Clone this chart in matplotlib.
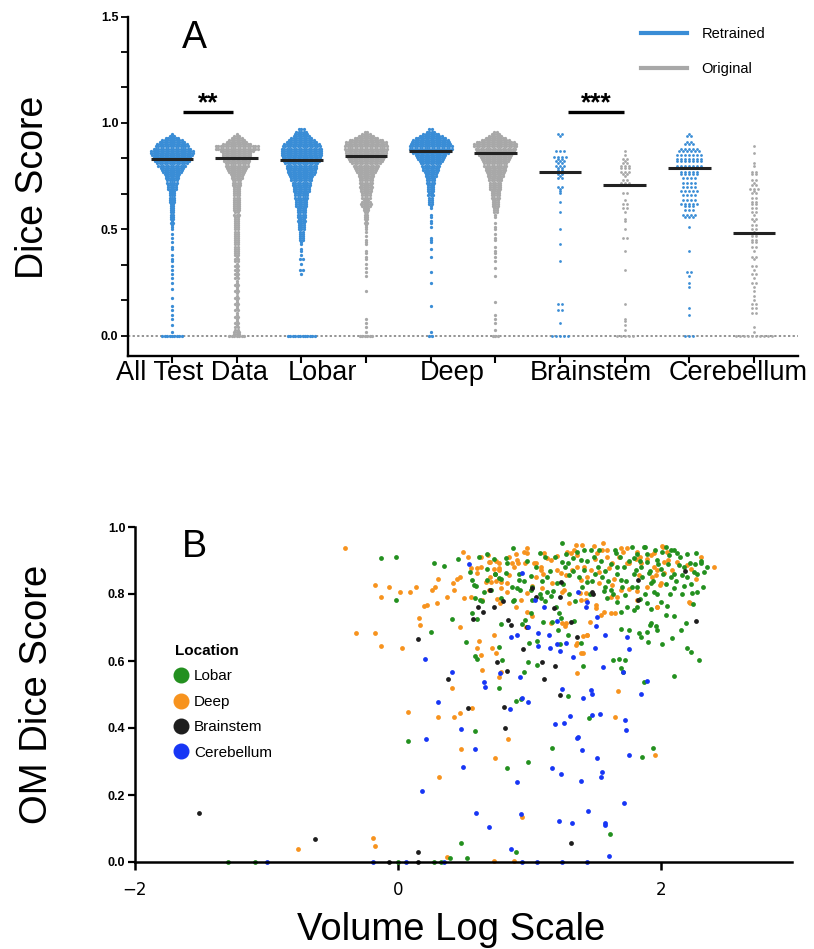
import numpy as np
import matplotlib
matplotlib.use("Agg")
import matplotlib.pyplot as plt
from matplotlib.lines import Line2D
from matplotlib.ticker import MultipleLocator

plt.rcParams['font.family'] = ['Liberation Sans', 'DejaVu Sans']

# ---------------- Panel A data ----------------
# number of cases per 0.01 Dice bin, index i -> score i/100 (0.00 .. 0.97)
all_ret = [9,0,1,0,0,1,0,0,1,0,
           1,0,1,0,1,0,0,0,1,0,
           0,0,1,0,0,1,0,1,0,1,
           0,1,0,1,0,1,1,0,1,0,
           0,1,1,0,1,0,1,0,1,0,
           1,1,1,2,1,2,2,2,2,2,
           2,2,2,3,3,3,3,3,3,4,
           4,4,5,5,6,6,7,8,9,10,
           12,13,15,16,16,17,18,18,16,14,
           13,11,9,6,3,1,0,0]
all_orig = [7,3,3,2,2,1,2,1,1,2,
            1,1,2,1,1,2,1,1,2,1,
            1,2,1,1,2,1,1,2,1,2,
            1,2,1,2,1,2,2,1,2,2,
            2,2,2,2,2,2,2,2,2,2,
            2,2,2,2,2,2,2,3,2,3,
            3,3,3,3,3,3,3,3,3,3,
            3,4,4,4,5,5,6,7,8,9,
            10,10,11,11,12,12,12,14,18,18,
            12,9,7,5,3,1,0,0]
lobar_ret = [12,0,0,0,0,0,0,0,0,0,
             0,0,0,0,0,0,0,0,0,0,
             0,0,0,0,0,0,0,0,0,1,
             0,2,0,0,1,0,2,0,1,0,
             1,1,0,1,1,2,2,2,2,2,
             3,3,3,3,4,3,4,4,4,4,
             4,5,5,5,5,6,6,6,7,7,
             7,8,8,9,9,10,11,12,12,13,
             13,14,15,16,16,17,17,17,17,16,
             15,13,11,9,7,6,5,3]
lobar_orig = [6,0,1,0,1,0,1,0,1,0,
              0,0,0,0,0,0,0,0,0,0,
              0,1,0,0,0,0,0,0,1,0,
              1,0,1,0,1,0,1,1,0,1,
              1,0,0,1,1,1,0,1,0,1,
              1,1,1,2,1,2,2,2,2,3,
              3,4,5,4,3,4,4,4,5,5,
              6,5,6,6,6,7,7,8,9,10,
              11,12,14,15,16,16,17,17,18,18,
              17,17,14,10,7,4,2,0]
deep_ret = [2,0,1,0,0,0,0,0,0,0,
            0,0,0,0,1,0,0,0,0,0,
            0,0,0,0,0,1,0,0,0,0,
            1,0,0,0,0,0,0,1,0,0,
            0,1,0,0,1,1,1,0,0,0,
            0,1,0,1,1,0,1,1,0,0,
            1,1,2,2,2,2,3,2,3,3,
            3,3,4,4,4,5,5,6,7,7,
            8,9,10,11,12,13,15,17,18,18,
            17,16,15,13,10,7,4,2]
deep_orig = [3,0,0,1,0,0,1,0,1,0,
             1,0,0,0,0,0,1,0,0,0,
             0,0,0,0,0,0,0,0,1,0,
             0,0,1,0,0,1,0,1,0,1,
             1,0,1,0,0,1,1,0,1,0,
             1,1,0,1,0,0,1,1,2,2,
             2,3,3,3,3,4,4,4,4,5,
             5,5,5,6,6,7,7,8,9,9,
             10,10,11,12,13,14,15,16,17,18,
             18,16,12,9,6,4,2,0]
brain_ret = [5,0,0,0,0,0,1,0,0,0,
             0,0,2,0,0,2,0,0,0,0,
             0,0,0,0,0,0,0,0,0,0,
             0,0,0,0,0,1,0,0,0,0,
             0,0,0,1,0,0,0,0,0,0,
             1,0,0,0,0,0,0,0,1,0,
             0,0,0,1,0,0,0,1,1,1,
             2,0,0,0,2,1,2,2,2,2,
             3,2,3,2,4,0,0,3,0,0,
             0,0,0,0,1,2,0,0]
brain_orig = [5,0,0,1,0,1,0,1,1,0,
              0,0,0,0,0,1,0,0,0,0,
              0,0,0,0,0,0,0,0,0,0,
              0,1,0,0,0,0,0,0,0,0,
              1,0,0,0,0,0,2,0,0,0,
              1,0,0,0,1,1,0,0,1,0,
              2,0,2,0,1,0,0,2,0,0,
              0,1,3,2,0,1,2,3,0,3,
              3,2,1,2,0,1,0,1,0,0,
              0,0,0,0,0,0,0,0]
cereb_ret = [3,0,0,0,0,0,0,0,0,0,
             1,0,0,1,0,0,0,0,0,0,
             0,0,0,1,0,1,0,0,1,0,
             2,0,0,0,0,0,0,0,0,0,
             1,0,0,0,0,0,0,0,0,0,
             0,1,0,0,0,0,3,4,0,3,
             0,3,5,0,4,0,4,0,5,0,
             4,0,4,0,4,0,5,5,0,5,
             7,0,7,7,0,7,0,6,5,0,
             3,2,0,0,2,1,0,0]
cereb_orig = [10,0,1,0,1,0,0,0,0,0,
              0,2,0,2,0,2,0,1,0,1,
              0,1,0,1,0,2,0,1,0,2,
              0,1,0,2,0,0,1,2,0,0,
              1,0,2,0,2,2,0,2,2,1,
              2,0,2,0,1,2,0,1,2,0,
              2,0,2,2,0,2,0,2,1,3,
              0,2,1,2,0,0,2,2,0,0,
              1,1,0,0,0,0,1,0,0,1,
              0,0,0,0,0,0,0,0]

groups_a = [all_ret, all_orig, lobar_ret, lobar_orig, deep_ret, deep_orig,
            brain_ret, brain_orig, cereb_ret, cereb_orig]
medians_a = [0.83, 0.835, 0.826, 0.845, 0.87, 0.86, 0.77, 0.71, 0.79, 0.485]
categories = ["All Test Data", "Lobar", "Deep", "Brainstem", "Cerebellum"]
legend_a = ["Retrained", "Original"]

# ---------------- Panel B data (log volume, OM dice) ----------------
deep_pts = [(-0.40,0.936),(-0.175,0.827),(-0.07,0.82),(0.015,0.806),(0.09,0.806),(0.137,0.82),
    (-0.127,0.79),(0.16,0.727),(0.17,0.707),(-0.317,0.685),(-0.175,0.685),(-0.13,0.645),
    (0.035,0.64),(0.074,0.449),(-0.763,0.038),(-0.19,0.072),(-0.175,0.048),
    (0.200,0.764),(0.221,0.767),(0.264,0.812),(0.281,0.822),(0.307,0.844),(0.297,0.772),
    (0.378,0.790),(0.421,0.832),(0.428,0.812),(0.454,0.844),(0.474,0.852),(0.499,0.924),
    (0.535,0.909),(0.504,0.787),(0.555,0.790),(0.474,0.702),(0.631,0.882),(0.601,0.864),
    (0.687,0.916),(0.695,0.897),(0.712,0.837),(0.745,0.840),(0.771,0.877),(0.783,0.817),
    (0.834,0.834),(0.847,0.857),(0.872,0.892),(0.897,0.918),(0.885,0.882),(0.910,0.901),
    (0.961,0.926),(0.986,0.936),(0.966,0.892),(1.037,0.894),(1.049,0.852),(1.087,0.882),
    (1.105,0.860),(1.024,0.824),(0.986,0.802),(1.113,0.921),(1.169,0.901),(1.209,0.913),
    (1.290,0.926),(1.341,0.931),(1.404,0.946),(1.366,0.916),(1.240,0.862),(1.328,0.872),
    (1.252,0.807),(1.387,0.804),(1.430,0.782),(0.758,0.784),(0.778,0.772),(0.829,0.807),
    (0.897,0.762),(0.733,0.678),(0.619,0.661),(0.606,0.640),(0.720,0.638),(0.745,0.625),
    (0.631,0.618),(0.986,0.747),(1.024,0.734),(1.163,0.712),(1.252,0.712),(1.272,0.704),
    (1.366,0.655),(1.354,0.648),(1.412,0.623),(1.366,0.563),(0.644,0.573),(0.771,0.553),
    (0.783,0.568),(0.411,0.518),(0.307,0.432),(0.428,0.432),(0.474,0.444),(0.568,0.459),
    (0.484,0.337),(0.314,0.253),(0.740,0.309),(0.839,0.366),(0.948,0.135),(0.373,0.016),
    (0.733,0.003),(0.885,0.003),(1.412,0.676),(1.437,0.678),(1.460,0.717),(1.675,0.510),
    (1.653,0.432),(1.954,0.319),(2.215,0.777),(2.266,0.844),(1.970,0.762),(2.406,0.882),
    (1.283,0.712),(0.555,0.877),(0.606,0.877),(0.631,0.909),(0.745,0.900),(0.771,0.872),
    (0.783,0.837),(0.669,0.837),(0.702,0.850),(0.935,0.782),
    (1.564,0.953),(1.594,0.931),(1.696,0.936),(1.716,0.926),(1.747,0.892),(1.810,0.903),
    (1.843,0.911),(1.899,0.903),(1.949,0.921),(2.013,0.943),(2.046,0.926),(2.056,0.901),
    (2.089,0.872),(2.127,0.897),(1.975,0.872),(1.937,0.852),(2.025,0.862),(1.995,0.827),
    (1.899,0.822),(1.823,0.810),(1.759,0.814),(1.696,0.812),(1.632,0.827),(1.665,0.792),
    (1.607,0.877),(1.531,0.867),(1.468,0.872),(1.417,0.882),(1.498,0.903),(1.392,0.842),
    (1.430,0.802),(1.506,0.757),(1.620,0.742),(1.544,0.737),(1.823,0.782),(1.975,0.760),
    (2.228,0.874),(2.309,0.911),(2.203,0.887),(2.223,0.774),(1.392,0.623),(1.443,0.678),
    (0.702,0.897),(0.771,0.892),(0.733,0.874),(0.847,0.911),(0.915,0.892),(0.986,0.921),
    (1.049,0.892),(1.087,0.872),(1.138,0.906),(1.100,0.817),(1.176,0.832),(1.209,0.872),
    (1.316,0.921),(1.354,0.946),(1.493,0.943),(1.518,0.921),(1.556,0.931),(1.589,0.911),
    (1.632,0.892),(1.683,0.911),(1.747,0.936),(1.759,0.892),(1.823,0.926),(1.848,0.892),
    (1.929,0.916),(1.949,0.882),(2.020,0.941),(2.025,0.897),(1.962,0.857),(2.000,0.832),
    (1.835,0.857),(1.620,0.792),(1.650,0.744),(1.645,0.844),(1.531,0.832),(1.437,0.852),
    (1.366,0.882),(1.278,0.857),(1.265,0.812),(1.303,0.772),(1.392,0.782),(1.506,0.767),
    (1.569,0.747),(0.695,0.812),(0.644,0.782),(0.973,0.702)]

lobar_pts = [(-0.13,0.908),(-0.015,0.91),(-0.015,0.782),(0.078,0.36),(-1.295,0.0),(-1.09,0.0),
    (0.0,0.0),(0.276,0.892),(0.352,0.885),(0.411,0.724),(0.251,0.686),(0.520,0.658),
    (0.586,0.615),(0.601,0.605),(0.588,0.391),(0.771,0.643),(0.834,0.282),(0.991,0.299),
    (0.991,0.596),(0.935,0.487),(1.062,0.660),(1.176,0.339),(1.412,0.586),(1.455,0.429),
    (1.716,0.568),(1.906,0.658),(1.919,0.707),(2.190,0.712),(1.942,0.341),(1.861,0.312),
    (1.612,0.083),(0.479,0.056),(0.897,0.031),(0.398,0.011),(0.530,0.011),(0.276,0.0),
    (0.327,0.0),(0.580,0.827),(0.626,0.782),
    (0.459,0.903),(0.619,0.909),(0.550,0.867),(0.568,0.842),(0.593,0.824),(0.588,0.789),
    (0.568,0.742),(0.606,0.725),(0.771,0.847),(0.829,0.892),(0.821,0.862),(0.677,0.874),
    (0.738,0.859),(0.707,0.812),(0.657,0.807),(0.783,0.787),(0.923,0.842),(0.905,0.817),
    (0.885,0.782),(1.024,0.782),(0.966,0.722),(1.011,0.742),(1.176,0.717),(1.240,0.727),
    (1.341,0.720),(1.062,0.588),
    (1.252,0.953),(0.880,0.936),(0.821,0.908),(0.733,0.903),(0.682,0.918),(0.740,0.860),
    (0.644,0.780),(0.682,0.842),(0.783,0.844),(0.961,0.840),(1.011,0.854),(1.082,0.921),
    (1.118,0.911),(1.138,0.850),(1.138,0.807),(1.163,0.794),(1.202,0.760),(1.214,0.832),
    (1.247,0.897),(1.270,0.880),(1.295,0.892),(1.303,0.857),(1.336,0.906),(1.366,0.926),
    (1.392,0.901),(1.417,0.872),(1.437,0.837),(1.468,0.931),(1.493,0.911),(1.523,0.882),
    (1.556,0.852),(1.574,0.822),(1.594,0.787),(1.625,0.812),(1.658,0.921),(1.670,0.882),
    (1.696,0.842),(1.726,0.797),(1.747,0.762),(1.785,0.941),(1.797,0.906),(1.810,0.872),
    (1.823,0.822),(1.843,0.784),(1.873,0.939),(1.894,0.897),(1.911,0.862),(1.924,0.832),
    (1.949,0.807),(1.975,0.901),(2.000,0.874),(2.013,0.926),(2.038,0.941),(2.063,0.916),
    (2.076,0.852),(2.101,0.817),(2.127,0.921),(2.139,0.887),(2.165,0.857),(2.177,0.824),
    (2.203,0.919),(2.223,0.892),(2.253,0.867),(2.266,0.921),(2.304,0.892),(2.330,0.867),
    (2.274,0.807),(2.241,0.804),(2.000,0.776),(2.051,0.764),(2.101,0.734),(2.038,0.737),
    (1.924,0.754),(1.899,0.772),(1.823,0.762),(1.797,0.752),(1.696,0.747),(1.670,0.777),
    (1.759,0.693),(1.696,0.695),(1.835,0.683),(1.848,0.673),(1.899,0.688),(1.962,0.704),
    (1.975,0.693),(1.924,0.712),(2.013,0.650),(2.089,0.668),(2.152,0.693),(2.203,0.640),
    (2.228,0.628),(2.292,0.603),(2.101,0.555),(1.873,0.538),(1.683,0.605),(1.640,0.603),
    (1.726,0.603),(1.696,0.578),(1.108,0.717),(1.219,0.693),(1.234,0.651),(1.295,0.678),
    (1.392,0.655),(0.999,0.653),(0.948,0.710),(0.783,0.710),(0.796,0.603),(0.771,0.518),
    (0.897,0.482),(0.961,0.568),(1.295,0.496),(1.227,0.744),(1.087,0.787),(1.011,0.812),
    (0.930,0.812),(0.872,0.822),
    (1.05,0.88),(1.10,0.84),(1.16,0.87),(1.20,0.91),(1.26,0.83),(1.30,0.80),(1.33,0.87),
    (1.38,0.85),(1.40,0.82),(1.44,0.90),(1.46,0.80),(1.50,0.86),(1.53,0.93),(1.55,0.90),
    (1.58,0.87),(1.60,0.84),(1.62,0.89),(1.64,0.80),(1.67,0.86),(1.69,0.91),(1.72,0.88),
    (1.74,0.84),(1.76,0.90),(1.78,0.82),(1.80,0.86),(1.82,0.92),(1.85,0.88),(1.86,0.85),
    (1.88,0.80),(1.90,0.92),(1.92,0.87),(1.94,0.84),(1.96,0.93),(1.98,0.89),(2.02,0.86),
    (2.04,0.83),(2.06,0.89),(2.08,0.93),(2.10,0.86),(2.12,0.84),(2.15,0.91),(2.18,0.88),
    (2.20,0.85),(2.23,0.83),(2.26,0.89),(2.28,0.86),(2.31,0.90),(2.35,0.88),(1.12,0.78),
    (1.18,0.81),(1.35,0.78),(1.48,0.84),(1.57,0.81),(1.71,0.82),(1.84,0.90),(1.97,0.80),
    (2.07,0.80),(2.16,0.80),(2.25,0.77),(2.32,0.82),(1.42,0.93),(1.65,0.93),(1.88,0.94),
    (2.10,0.93),(1.28,0.92),(0.98,0.90),(0.92,0.86),(1.02,0.82),(1.08,0.80),(0.88,0.78)]

brain_pts = [(-1.515,0.145),(-0.63,0.07),(0.155,0.667),(0.157,0.031),(-0.07,0.0),(0.155,0.0),
    (0.383,0.546),(0.537,0.459),(0.613,0.760),(0.651,0.747),(0.573,0.725),(0.702,0.812),
    (0.733,0.760),(0.804,0.779),(0.758,0.596),(0.834,0.571),(0.839,0.722),(0.859,0.707),
    (0.809,0.462),(0.816,0.401),(0.953,0.636),(0.981,0.702),(1.024,0.817),(1.054,0.792),
    (1.113,0.546),(1.100,0.598),(1.189,0.757),(1.194,0.585),(1.234,0.500),(1.245,0.837),
    (1.234,0.790),(1.316,0.717),(1.366,0.673),(1.321,0.058),(1.475,0.805),(1.488,0.799),
    (1.828,0.842),(1.830,0.782),(2.185,0.870),(2.271,0.720)]

cereb_pts = [(0.542,0.890),(0.948,0.862),(1.042,0.782),(1.113,0.762),(1.430,0.762),(1.518,0.732),
    (1.506,0.704),(1.209,0.720),(0.991,0.701),(0.910,0.678),(0.864,0.673),(1.070,0.685),
    (1.151,0.678),(1.067,0.646),(1.158,0.638),(1.214,0.651),(1.283,0.655),(1.234,0.631),
    (1.498,0.640),(1.574,0.678),(1.747,0.673),(1.759,0.636),(1.333,0.611),(0.208,0.605),
    (0.411,0.568),(0.778,0.563),(0.928,0.553),(0.657,0.538),(0.662,0.523),(1.561,0.581),
    (1.716,0.566),(1.899,0.541),(1.252,0.515),(1.473,0.513),(1.480,0.501),(1.412,0.491),
    (1.853,0.501),(0.307,0.479),(0.943,0.489),(0.991,0.479),(0.852,0.456),(1.475,0.439),
    (1.539,0.441),(1.308,0.436),(1.265,0.414),(1.196,0.411),(1.726,0.424),(1.739,0.394),
    (0.484,0.397),(1.366,0.369),(1.374,0.372),(0.213,0.366),(0.586,0.336),(1.399,0.334),
    (1.759,0.319),(1.518,0.311),(0.497,0.285),(1.171,0.282),(1.245,0.262),(1.551,0.270),
    (1.546,0.253),(0.905,0.240),(1.397,0.242),(0.185,0.212),(1.724,0.175),(0.596,0.145),
    (0.935,0.142),(1.450,0.152),(0.695,0.105),(1.227,0.123),(1.323,0.117),(1.574,0.115),
    (1.577,0.110),(0.859,0.038),(1.607,0.018),(0.061,0.0),(0.352,0.0),(0.948,0.0),
    (1.057,0.0),(1.252,0.0),(1.437,0.0),(-0.996,0.0),(-0.185,0.0),(1.371,0.807),
    (1.443,0.775)]

location_names = ["Lobar", "Deep", "Brainstem", "Cerebellum"]

# ---------------- styling ----------------
blue = '#3A8DD6'
grey = '#A8A8A8'
loc_colors = {'Lobar': '#23901F', 'Deep': '#F7931E', 'Brainstem': '#1E1E1E', 'Cerebellum': '#1736F5'}


def swarm(counts, center, dx):
    xs, ys = [], []
    for i, n in enumerate(counts):
        if n == 0:
            continue
        offs = (np.arange(n) - (n - 1) / 2.0) * dx
        xs.extend(center + offs)
        ys.extend([i / 100.0] * n)
    return np.array(xs), np.array(ys)


fig = plt.figure(figsize=(8.14, 9.49), dpi=100)

# ======== Panel A ========
axA = fig.add_axes([128/814, 1-356/949, 670/814, 339.5/949])
for k, counts in enumerate(groups_a):
    col = blue if k % 2 == 0 else grey
    dense = k < 6
    dx = 0.038 if dense else 0.062
    xs, ys = swarm(counts, k, dx)
    axA.scatter(xs, ys, s=5.5 if dense else 4, color=col, linewidths=0, zorder=2, clip_on=False)
    axA.hlines(medians_a[k], k - 0.33, k + 0.33, color='#222222', lw=2.2, zorder=3)

axA.axhline(0, color='#777777', lw=1.1, ls=(0, (1.5, 1.5)), zorder=1)
axA.set_xlim(-0.68, 9.68)
axA.set_ylim(-0.094, 1.5)
axA.set_xticks(range(10))
axA.set_xticklabels([])
axA.yaxis.set_major_locator(MultipleLocator(0.5))
axA.yaxis.set_minor_locator(MultipleLocator(0.5 / 3))
axA.set_yticklabels(['%.1f' % v for v in axA.get_yticks()], fontsize=9, fontweight='bold')
axA.tick_params(axis='x', length=5, width=1.5)
axA.tick_params(axis='y', which='both', length=5, width=1.3, pad=2)
for s in ['top', 'right']:
    axA.spines[s].set_visible(False)
for s in ['left', 'bottom']:
    axA.spines[s].set_linewidth(1.7)

for j, name in enumerate(categories):
    xpos = [0.31, 2.33, 4.33, 6.48, 8.75][j]
    axA.text(xpos, -0.175, name, ha='center', va='center', fontsize=19.5)

# significance bars
for (x0, x1), stars in [((0.17, 0.94), '**'), ((6.12, 6.99), '***')]:
    axA.plot([x0, x1], [1.05, 1.05], color='black', lw=2.4, solid_capstyle='butt')
    axA.text((x0 + x1) / 2, 1.058, stars, ha='center', va='baseline', fontsize=19, fontweight='bold')

axA.text(0.34, 1.40, 'A', ha='center', va='center', fontsize=27)

handlesA = [Line2D([], [], color=blue, lw=3), Line2D([], [], color=grey, lw=3)]
fig.legend(handlesA, legend_a, loc='upper left', bbox_to_anchor=(641/814, 1-27/949),
           bbox_transform=fig.transFigure, frameon=False, fontsize=10.5, handlelength=3.15,
           handletextpad=1.0, labelspacing=1.45, borderpad=0, borderaxespad=0)

fig.text(33/814, 1-187/949, 'Dice Score', rotation=90, ha='center', va='center', fontsize=27)

# ======== Panel B ========
axB = fig.add_axes([135/814, 1-862/949, 657/814, 335/949])
point_sets = {'Deep': deep_pts, 'Lobar': lobar_pts, 'Brainstem': brain_pts, 'Cerebellum': cereb_pts}
for name in ['Deep', 'Lobar', 'Brainstem', 'Cerebellum']:
    arr = np.array(point_sets[name])
    axB.scatter(arr[:, 0], arr[:, 1], s=12, color=loc_colors[name], linewidths=0, zorder=2,
                clip_on=False)

axB.set_xlim(-2, 3)
axB.set_ylim(0, 1.0)
axB.set_xticks([-2, 0, 2])
axB.set_yticks(np.arange(0, 1.01, 0.2))
axB.set_yticklabels(['%.1f' % v for v in np.arange(0, 1.01, 0.2)], fontsize=9, fontweight='bold')
for lbl in axB.get_xticklabels():
    lbl.set_fontfamily('DejaVu Sans')
    lbl.set_fontsize(12)
axB.tick_params(axis='x', length=6, width=1.8, pad=8)
axB.tick_params(axis='y', length=5, width=1.6, pad=2)
for s in ['top', 'right']:
    axB.spines[s].set_visible(False)
for s in ['left', 'bottom']:
    axB.spines[s].set_linewidth(1.8)
    axB.spines[s].set_zorder(3)

axB.text(-1.544, 0.94, 'B', ha='center', va='center', fontsize=27)

handlesB = [Line2D([], [], marker='o', ls='', color=loc_colors[n], markersize=10.5) for n in location_names]
legB = fig.legend(handlesB, location_names, loc='upper left', bbox_to_anchor=(175/814, 1-644/949),
                  bbox_transform=fig.transFigure, frameon=False, fontsize=11, title='Location',
                  title_fontproperties={'weight': 'bold', 'size': 11}, alignment='left',
                  handlelength=0.8, handletextpad=0.45, labelspacing=0.75, borderpad=0,
                  borderaxespad=0)

fig.text(37/814, 1-694/949, 'OM Dice Score', rotation=90, ha='center', va='center', fontsize=27.5)
fig.text(451/814, 1-930/949, 'Volume Log Scale', ha='center', va='center', fontsize=27.5)

fig.savefig('out.png', dpi=100)
